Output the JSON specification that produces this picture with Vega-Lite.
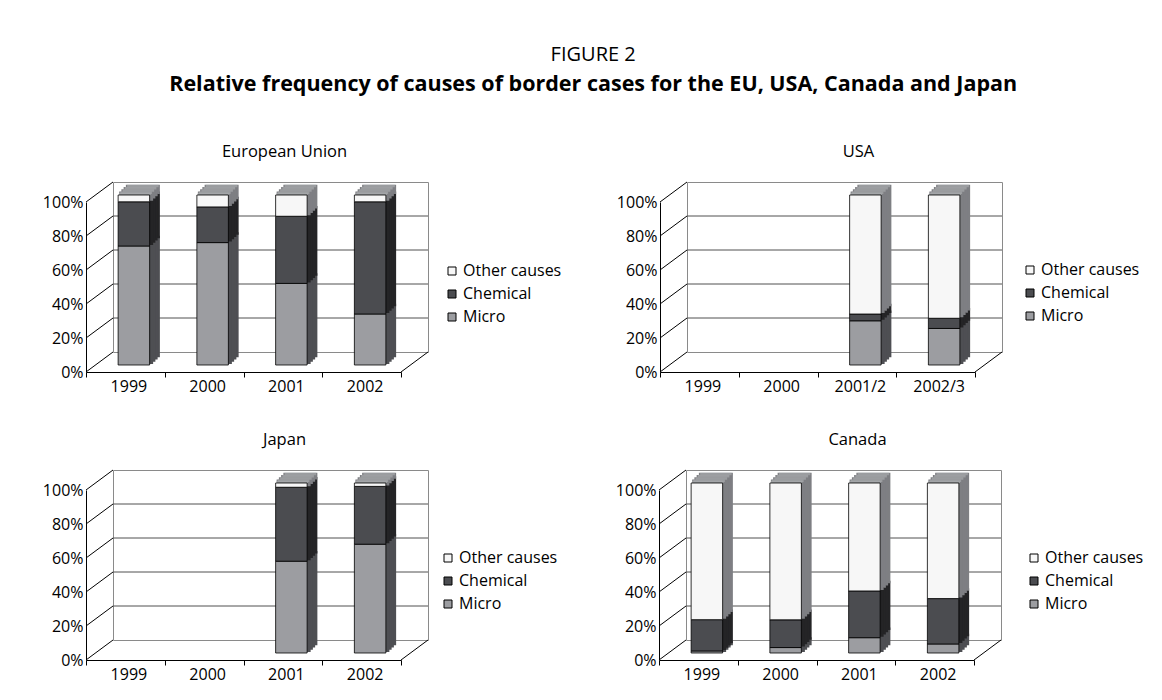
{
  "$schema": "https://vega.github.io/schema/vega-lite/v6.json",
  "background": "white",
  "padding": {"left": 41, "top": 45, "right": 5, "bottom": 5},
  "title": {
    "text": "FIGURE 2",
    "subtitle": "Relative frequency of causes of border cases for the EU, USA, Canada and Japan",
    "font": "Open Sans", "fontSize": 20, "fontWeight": "normal", "color": "black",
    "subtitleFont": "Open Sans", "subtitleFontSize": 21.5, "subtitleFontWeight": "bold", "subtitleColor": "black",
    "subtitlePadding": 9, "baseline": "top", "anchor": "middle", "frame": "bounds", "dx": 0, "offset": 48
  },
  "datasets": {
    "levels": [{"level": 0}, {"level": 20}, {"level": 40}, {"level": 60}, {"level": 80}, {"level": 100}],
    "causes": [
      {"region": "EU", "period": "1999", "cause": "Micro", "value": 70},
      {"region": "EU", "period": "1999", "cause": "Chemical", "value": 26},
      {"region": "EU", "period": "1999", "cause": "Other causes", "value": 4},
      {"region": "EU", "period": "2000", "cause": "Micro", "value": 72},
      {"region": "EU", "period": "2000", "cause": "Chemical", "value": 21},
      {"region": "EU", "period": "2000", "cause": "Other causes", "value": 7},
      {"region": "EU", "period": "2001", "cause": "Micro", "value": 48},
      {"region": "EU", "period": "2001", "cause": "Chemical", "value": 39.5},
      {"region": "EU", "period": "2001", "cause": "Other causes", "value": 12.5},
      {"region": "EU", "period": "2002", "cause": "Micro", "value": 30},
      {"region": "EU", "period": "2002", "cause": "Chemical", "value": 66},
      {"region": "EU", "period": "2002", "cause": "Other causes", "value": 4},
      {"region": "USA", "period": "2001/2", "cause": "Micro", "value": 26},
      {"region": "USA", "period": "2001/2", "cause": "Chemical", "value": 4},
      {"region": "USA", "period": "2001/2", "cause": "Other causes", "value": 70},
      {"region": "USA", "period": "2002/3", "cause": "Micro", "value": 21.5},
      {"region": "USA", "period": "2002/3", "cause": "Chemical", "value": 6},
      {"region": "USA", "period": "2002/3", "cause": "Other causes", "value": 72.5},
      {"region": "Japan", "period": "2001", "cause": "Micro", "value": 54},
      {"region": "Japan", "period": "2001", "cause": "Chemical", "value": 43.5},
      {"region": "Japan", "period": "2001", "cause": "Other causes", "value": 2.5},
      {"region": "Japan", "period": "2002", "cause": "Micro", "value": 64},
      {"region": "Japan", "period": "2002", "cause": "Chemical", "value": 34},
      {"region": "Japan", "period": "2002", "cause": "Other causes", "value": 2},
      {"region": "Canada", "period": "1999", "cause": "Micro", "value": 1.2},
      {"region": "Canada", "period": "1999", "cause": "Chemical", "value": 18.4},
      {"region": "Canada", "period": "1999", "cause": "Other causes", "value": 80.4},
      {"region": "Canada", "period": "2000", "cause": "Micro", "value": 3.2},
      {"region": "Canada", "period": "2000", "cause": "Chemical", "value": 16.3},
      {"region": "Canada", "period": "2000", "cause": "Other causes", "value": 80.5},
      {"region": "Canada", "period": "2001", "cause": "Micro", "value": 9},
      {"region": "Canada", "period": "2001", "cause": "Chemical", "value": 27.5},
      {"region": "Canada", "period": "2001", "cause": "Other causes", "value": 63.5},
      {"region": "Canada", "period": "2002", "cause": "Micro", "value": 5.3},
      {"region": "Canada", "period": "2002", "cause": "Chemical", "value": 26.7},
      {"region": "Canada", "period": "2002", "cause": "Other causes", "value": 68}
    ]
  },
  "spacing": 36,
  "resolve": {"scale": {"color": "independent", "fill": "independent", "stroke": "independent"}, "legend": {"color": "independent"}},
  "vconcat": [
    {
      "spacing": 52,
      "resolve": {"scale": {"color": "independent", "fill": "independent", "stroke": "independent"}, "legend": {"color": "independent"}},
      "hconcat": [
        {
          "width": 315, "height": 170,
          "title": {"text": "European Union"},
          "layer": [
            {"data": {"name": "levels"}, "transform": [{"filter": "datum.level > 0 && datum.level < 100"}],
             "mark": {"type": "rule", "color": "#505050", "strokeWidth": 1},
             "encoding": {"y": {"field": "level", "type": "quantitative", "title": null}}},
            {"data": {"name": "levels"},
             "mark": {"type": "rule", "color": "black", "strokeWidth": 1, "xOffset": -27, "yOffset": 20},
             "encoding": {"x": {"datum": "1999", "type": "nominal", "bandPosition": 0, "title": null}, "x2": {"datum": "1999", "bandPosition": 0}, "y": {"field": "level", "type": "quantitative", "title": null}, "y2": {"field": "level"}}},
            {"data": {"name": "levels"}, "transform": [{"filter": "datum.level == 0"}],
             "mark": {"type": "rule", "color": "black", "strokeWidth": 1, "xOffset": -27, "yOffset": 20},
             "encoding": {"x": {"datum": "2002", "type": "nominal", "bandPosition": 1, "title": null}, "x2": {"datum": "2002", "bandPosition": 1}, "y": {"field": "level", "type": "quantitative", "title": null}, "y2": {"field": "level"}}},
            {"data": {"name": "causes"}, "transform": [{"filter": "datum.region == 'EU'"}, {"stack": "value", "groupby": ["period"], "as": ["v0", "v1"]}],
             "mark": {"type": "bar", "width": {"band": 0.4}, "strokeWidth": 2.5, "xOffset": -9.5, "yOffset": 4, "y2Offset": 4},
             "encoding": {"x": {"field": "period", "type": "nominal", "title": null}, "y": {"field": "v1", "type": "quantitative", "title": null}, "y2": {"field": "v0"},
               "fill": {"field": "cause", "type": "nominal", "scale": {"range": ["#242426", "#4e4f53", "#7e7f83"]}, "legend": null},
               "stroke": {"field": "cause", "type": "nominal", "scale": {"range": ["#242426", "#4e4f53", "#7e7f83"]}, "legend": null}}},
            {"data": {"name": "causes"}, "transform": [{"filter": "datum.region == 'EU'"}, {"stack": "value", "groupby": ["period"], "as": ["v0", "v1"]}],
             "mark": {"type": "bar", "width": {"band": 0.4}, "strokeWidth": 2.5, "xOffset": -11.75, "yOffset": 6.25, "y2Offset": 6.25},
             "encoding": {"x": {"field": "period", "type": "nominal", "title": null}, "y": {"field": "v1", "type": "quantitative", "title": null}, "y2": {"field": "v0"},
               "fill": {"field": "cause", "type": "nominal", "scale": {"range": ["#242426", "#4e4f53", "#7e7f83"]}, "legend": null},
               "stroke": {"field": "cause", "type": "nominal", "scale": {"range": ["#242426", "#4e4f53", "#7e7f83"]}, "legend": null}}},
            {"data": {"name": "causes"}, "transform": [{"filter": "datum.region == 'EU'"}, {"stack": "value", "groupby": ["period"], "as": ["v0", "v1"]}],
             "mark": {"type": "bar", "width": {"band": 0.4}, "strokeWidth": 2.5, "xOffset": -14, "yOffset": 8.5, "y2Offset": 8.5},
             "encoding": {"x": {"field": "period", "type": "nominal", "title": null}, "y": {"field": "v1", "type": "quantitative", "title": null}, "y2": {"field": "v0"},
               "fill": {"field": "cause", "type": "nominal", "scale": {"range": ["#242426", "#4e4f53", "#7e7f83"]}, "legend": null},
               "stroke": {"field": "cause", "type": "nominal", "scale": {"range": ["#242426", "#4e4f53", "#7e7f83"]}, "legend": null}}},
            {"data": {"name": "causes"}, "transform": [{"filter": "datum.region == 'EU'"}, {"stack": "value", "groupby": ["period"], "as": ["v0", "v1"]}],
             "mark": {"type": "bar", "width": {"band": 0.4}, "strokeWidth": 2.5, "xOffset": -16.25, "yOffset": 10.75, "y2Offset": 10.75},
             "encoding": {"x": {"field": "period", "type": "nominal", "title": null}, "y": {"field": "v1", "type": "quantitative", "title": null}, "y2": {"field": "v0"},
               "fill": {"field": "cause", "type": "nominal", "scale": {"range": ["#242426", "#4e4f53", "#7e7f83"]}, "legend": null},
               "stroke": {"field": "cause", "type": "nominal", "scale": {"range": ["#242426", "#4e4f53", "#7e7f83"]}, "legend": null}}},
            {"data": {"name": "causes"}, "transform": [{"filter": "datum.region == 'EU' && datum.cause == 'Other causes'"}],
             "mark": {"type": "tick", "color": "#a8a9ac", "thickness": 2.5, "size": 31.5, "xOffset": -9.5, "yOffset": 4},
             "encoding": {"x": {"field": "period", "type": "nominal", "title": null}, "y": {"datum": 100, "type": "quantitative", "title": null}}},
            {"data": {"name": "causes"}, "transform": [{"filter": "datum.region == 'EU' && datum.cause == 'Other causes'"}],
             "mark": {"type": "tick", "color": "#a8a9ac", "thickness": 2.5, "size": 31.5, "xOffset": -11.75, "yOffset": 6.25},
             "encoding": {"x": {"field": "period", "type": "nominal", "title": null}, "y": {"datum": 100, "type": "quantitative", "title": null}}},
            {"data": {"name": "causes"}, "transform": [{"filter": "datum.region == 'EU' && datum.cause == 'Other causes'"}],
             "mark": {"type": "tick", "color": "#a8a9ac", "thickness": 2.5, "size": 31.5, "xOffset": -14, "yOffset": 8.5},
             "encoding": {"x": {"field": "period", "type": "nominal", "title": null}, "y": {"datum": 100, "type": "quantitative", "title": null}}},
            {"data": {"name": "causes"}, "transform": [{"filter": "datum.region == 'EU' && datum.cause == 'Other causes'"}],
             "mark": {"type": "tick", "color": "#a8a9ac", "thickness": 2.5, "size": 31.5, "xOffset": -16.25, "yOffset": 10.75},
             "encoding": {"x": {"field": "period", "type": "nominal", "title": null}, "y": {"datum": 100, "type": "quantitative", "title": null}}},
            {"data": {"name": "causes"}, "transform": [{"filter": "datum.region == 'EU' && datum.cause == 'Other causes'"}],
             "mark": {"type": "tick", "color": "#a8a9ac", "thickness": 2.5, "size": 31.5, "xOffset": -17.5, "yOffset": 12},
             "encoding": {"x": {"field": "period", "type": "nominal", "title": null}, "y": {"datum": 100, "type": "quantitative", "title": null}}},
            {"data": {"name": "causes"}, "transform": [{"filter": "datum.region == 'EU'"}, {"stack": "value", "groupby": ["period"], "as": ["v0", "v1"]}],
             "mark": {"type": "bar", "width": {"band": 0.4}, "stroke": "black", "strokeWidth": 0.8, "xOffset": -18.5, "yOffset": 13, "y2Offset": 13},
             "encoding": {
               "x": {"field": "period", "type": "nominal", "title": null, "scale": {"domain": ["1999", "2000", "2001", "2002"], "paddingInner": 0, "paddingOuter": 0},
                     "axis": {"orient": "bottom", "offset": 20, "position": -27, "tickBand": "extent", "tickSize": 5, "labelPadding": 9, "labelAngle": 0, "labelAlign": "center", "labelOffset": 3, "title": null}},
               "y": {"field": "v1", "type": "quantitative", "title": null, "scale": {"domain": [0, 100], "nice": false},
                     "axis": {"orient": "left", "offset": 27, "position": 20, "values": [0, 20, 40, 60, 80, 100], "tickCount": 6, "labelExpr": "datum.value + '%'", "ticks": false, "labelPadding": 3, "labelOverlap": false, "labelFlush": false, "title": null}},
               "y2": {"field": "v0"},
               "color": {"field": "cause", "type": "nominal", "scale": {"domain": ["Other causes", "Chemical", "Micro"], "range": ["#f7f7f7", "#4b4c50", "#9c9da1"]},
                         "legend": {"orient": "none", "legendX": 331, "legendY": 81, "title": null}}
             }}
          ]
        },
        {
          "width": 315, "height": 170,
          "title": {"text": "USA"},
          "layer": [
            {"data": {"name": "levels"}, "transform": [{"filter": "datum.level > 0 && datum.level < 100"}],
             "mark": {"type": "rule", "color": "#505050", "strokeWidth": 1},
             "encoding": {"y": {"field": "level", "type": "quantitative", "title": null}}},
            {"data": {"name": "levels"},
             "mark": {"type": "rule", "color": "black", "strokeWidth": 1, "xOffset": -27, "yOffset": 20},
             "encoding": {"x": {"datum": "1999", "type": "nominal", "bandPosition": 0, "title": null}, "x2": {"datum": "1999", "bandPosition": 0}, "y": {"field": "level", "type": "quantitative", "title": null}, "y2": {"field": "level"}}},
            {"data": {"name": "levels"}, "transform": [{"filter": "datum.level == 0"}],
             "mark": {"type": "rule", "color": "black", "strokeWidth": 1, "xOffset": -27, "yOffset": 20},
             "encoding": {"x": {"datum": "2002/3", "type": "nominal", "bandPosition": 1, "title": null}, "x2": {"datum": "2002/3", "bandPosition": 1}, "y": {"field": "level", "type": "quantitative", "title": null}, "y2": {"field": "level"}}},
            {"data": {"name": "causes"}, "transform": [{"filter": "datum.region == 'USA'"}, {"stack": "value", "groupby": ["period"], "as": ["v0", "v1"]}],
             "mark": {"type": "bar", "width": {"band": 0.4}, "strokeWidth": 2.5, "xOffset": -9.5, "yOffset": 4, "y2Offset": 4},
             "encoding": {"x": {"field": "period", "type": "nominal", "title": null}, "y": {"field": "v1", "type": "quantitative", "title": null}, "y2": {"field": "v0"},
               "fill": {"field": "cause", "type": "nominal", "scale": {"range": ["#242426", "#4e4f53", "#7e7f83"]}, "legend": null},
               "stroke": {"field": "cause", "type": "nominal", "scale": {"range": ["#242426", "#4e4f53", "#7e7f83"]}, "legend": null}}},
            {"data": {"name": "causes"}, "transform": [{"filter": "datum.region == 'USA'"}, {"stack": "value", "groupby": ["period"], "as": ["v0", "v1"]}],
             "mark": {"type": "bar", "width": {"band": 0.4}, "strokeWidth": 2.5, "xOffset": -11.75, "yOffset": 6.25, "y2Offset": 6.25},
             "encoding": {"x": {"field": "period", "type": "nominal", "title": null}, "y": {"field": "v1", "type": "quantitative", "title": null}, "y2": {"field": "v0"},
               "fill": {"field": "cause", "type": "nominal", "scale": {"range": ["#242426", "#4e4f53", "#7e7f83"]}, "legend": null},
               "stroke": {"field": "cause", "type": "nominal", "scale": {"range": ["#242426", "#4e4f53", "#7e7f83"]}, "legend": null}}},
            {"data": {"name": "causes"}, "transform": [{"filter": "datum.region == 'USA'"}, {"stack": "value", "groupby": ["period"], "as": ["v0", "v1"]}],
             "mark": {"type": "bar", "width": {"band": 0.4}, "strokeWidth": 2.5, "xOffset": -14, "yOffset": 8.5, "y2Offset": 8.5},
             "encoding": {"x": {"field": "period", "type": "nominal", "title": null}, "y": {"field": "v1", "type": "quantitative", "title": null}, "y2": {"field": "v0"},
               "fill": {"field": "cause", "type": "nominal", "scale": {"range": ["#242426", "#4e4f53", "#7e7f83"]}, "legend": null},
               "stroke": {"field": "cause", "type": "nominal", "scale": {"range": ["#242426", "#4e4f53", "#7e7f83"]}, "legend": null}}},
            {"data": {"name": "causes"}, "transform": [{"filter": "datum.region == 'USA'"}, {"stack": "value", "groupby": ["period"], "as": ["v0", "v1"]}],
             "mark": {"type": "bar", "width": {"band": 0.4}, "strokeWidth": 2.5, "xOffset": -16.25, "yOffset": 10.75, "y2Offset": 10.75},
             "encoding": {"x": {"field": "period", "type": "nominal", "title": null}, "y": {"field": "v1", "type": "quantitative", "title": null}, "y2": {"field": "v0"},
               "fill": {"field": "cause", "type": "nominal", "scale": {"range": ["#242426", "#4e4f53", "#7e7f83"]}, "legend": null},
               "stroke": {"field": "cause", "type": "nominal", "scale": {"range": ["#242426", "#4e4f53", "#7e7f83"]}, "legend": null}}},
            {"data": {"name": "causes"}, "transform": [{"filter": "datum.region == 'USA' && datum.cause == 'Other causes'"}],
             "mark": {"type": "tick", "color": "#a8a9ac", "thickness": 2.5, "size": 31.5, "xOffset": -9.5, "yOffset": 4},
             "encoding": {"x": {"field": "period", "type": "nominal", "title": null}, "y": {"datum": 100, "type": "quantitative", "title": null}}},
            {"data": {"name": "causes"}, "transform": [{"filter": "datum.region == 'USA' && datum.cause == 'Other causes'"}],
             "mark": {"type": "tick", "color": "#a8a9ac", "thickness": 2.5, "size": 31.5, "xOffset": -11.75, "yOffset": 6.25},
             "encoding": {"x": {"field": "period", "type": "nominal", "title": null}, "y": {"datum": 100, "type": "quantitative", "title": null}}},
            {"data": {"name": "causes"}, "transform": [{"filter": "datum.region == 'USA' && datum.cause == 'Other causes'"}],
             "mark": {"type": "tick", "color": "#a8a9ac", "thickness": 2.5, "size": 31.5, "xOffset": -14, "yOffset": 8.5},
             "encoding": {"x": {"field": "period", "type": "nominal", "title": null}, "y": {"datum": 100, "type": "quantitative", "title": null}}},
            {"data": {"name": "causes"}, "transform": [{"filter": "datum.region == 'USA' && datum.cause == 'Other causes'"}],
             "mark": {"type": "tick", "color": "#a8a9ac", "thickness": 2.5, "size": 31.5, "xOffset": -16.25, "yOffset": 10.75},
             "encoding": {"x": {"field": "period", "type": "nominal", "title": null}, "y": {"datum": 100, "type": "quantitative", "title": null}}},
            {"data": {"name": "causes"}, "transform": [{"filter": "datum.region == 'USA' && datum.cause == 'Other causes'"}],
             "mark": {"type": "tick", "color": "#a8a9ac", "thickness": 2.5, "size": 31.5, "xOffset": -17.5, "yOffset": 12},
             "encoding": {"x": {"field": "period", "type": "nominal", "title": null}, "y": {"datum": 100, "type": "quantitative", "title": null}}},
            {"data": {"name": "causes"}, "transform": [{"filter": "datum.region == 'USA'"}, {"stack": "value", "groupby": ["period"], "as": ["v0", "v1"]}],
             "mark": {"type": "bar", "width": {"band": 0.4}, "stroke": "black", "strokeWidth": 0.8, "xOffset": -18.5, "yOffset": 13, "y2Offset": 13},
             "encoding": {
               "x": {"field": "period", "type": "nominal", "title": null, "scale": {"domain": ["1999", "2000", "2001/2", "2002/3"], "paddingInner": 0, "paddingOuter": 0},
                     "axis": {"orient": "bottom", "offset": 20, "position": -27, "tickBand": "extent", "tickSize": 5, "labelPadding": 9, "labelAngle": 0, "labelAlign": "center", "labelOffset": 3, "title": null}},
               "y": {"field": "v1", "type": "quantitative", "title": null, "scale": {"domain": [0, 100], "nice": false},
                     "axis": {"orient": "left", "offset": 27, "position": 20, "values": [0, 20, 40, 60, 80, 100], "tickCount": 6, "labelExpr": "datum.value + '%'", "ticks": false, "labelPadding": 3, "labelOverlap": false, "labelFlush": false, "title": null}},
               "y2": {"field": "v0"},
               "color": {"field": "cause", "type": "nominal", "scale": {"domain": ["Other causes", "Chemical", "Micro"], "range": ["#f7f7f7", "#4b4c50", "#9c9da1"]},
                         "legend": {"orient": "none", "legendX": 335, "legendY": 80, "title": null}}
             }}
          ]
        }
      ]
    },
    {
      "spacing": 55,
      "resolve": {"scale": {"color": "independent", "fill": "independent", "stroke": "independent"}, "legend": {"color": "independent"}},
      "hconcat": [
        {
          "width": 315, "height": 170,
          "title": {"text": "Japan"},
          "layer": [
            {"data": {"name": "levels"}, "transform": [{"filter": "datum.level > 0 && datum.level < 100"}],
             "mark": {"type": "rule", "color": "#505050", "strokeWidth": 1},
             "encoding": {"y": {"field": "level", "type": "quantitative", "title": null}}},
            {"data": {"name": "levels"},
             "mark": {"type": "rule", "color": "black", "strokeWidth": 1, "xOffset": -27, "yOffset": 20},
             "encoding": {"x": {"datum": "1999", "type": "nominal", "bandPosition": 0, "title": null}, "x2": {"datum": "1999", "bandPosition": 0}, "y": {"field": "level", "type": "quantitative", "title": null}, "y2": {"field": "level"}}},
            {"data": {"name": "levels"}, "transform": [{"filter": "datum.level == 0"}],
             "mark": {"type": "rule", "color": "black", "strokeWidth": 1, "xOffset": -27, "yOffset": 20},
             "encoding": {"x": {"datum": "2002", "type": "nominal", "bandPosition": 1, "title": null}, "x2": {"datum": "2002", "bandPosition": 1}, "y": {"field": "level", "type": "quantitative", "title": null}, "y2": {"field": "level"}}},
            {"data": {"name": "causes"}, "transform": [{"filter": "datum.region == 'Japan'"}, {"stack": "value", "groupby": ["period"], "as": ["v0", "v1"]}],
             "mark": {"type": "bar", "width": {"band": 0.4}, "strokeWidth": 2.5, "xOffset": -9.5, "yOffset": 4, "y2Offset": 4},
             "encoding": {"x": {"field": "period", "type": "nominal", "title": null}, "y": {"field": "v1", "type": "quantitative", "title": null}, "y2": {"field": "v0"},
               "fill": {"field": "cause", "type": "nominal", "scale": {"range": ["#242426", "#4e4f53", "#7e7f83"]}, "legend": null},
               "stroke": {"field": "cause", "type": "nominal", "scale": {"range": ["#242426", "#4e4f53", "#7e7f83"]}, "legend": null}}},
            {"data": {"name": "causes"}, "transform": [{"filter": "datum.region == 'Japan'"}, {"stack": "value", "groupby": ["period"], "as": ["v0", "v1"]}],
             "mark": {"type": "bar", "width": {"band": 0.4}, "strokeWidth": 2.5, "xOffset": -11.75, "yOffset": 6.25, "y2Offset": 6.25},
             "encoding": {"x": {"field": "period", "type": "nominal", "title": null}, "y": {"field": "v1", "type": "quantitative", "title": null}, "y2": {"field": "v0"},
               "fill": {"field": "cause", "type": "nominal", "scale": {"range": ["#242426", "#4e4f53", "#7e7f83"]}, "legend": null},
               "stroke": {"field": "cause", "type": "nominal", "scale": {"range": ["#242426", "#4e4f53", "#7e7f83"]}, "legend": null}}},
            {"data": {"name": "causes"}, "transform": [{"filter": "datum.region == 'Japan'"}, {"stack": "value", "groupby": ["period"], "as": ["v0", "v1"]}],
             "mark": {"type": "bar", "width": {"band": 0.4}, "strokeWidth": 2.5, "xOffset": -14, "yOffset": 8.5, "y2Offset": 8.5},
             "encoding": {"x": {"field": "period", "type": "nominal", "title": null}, "y": {"field": "v1", "type": "quantitative", "title": null}, "y2": {"field": "v0"},
               "fill": {"field": "cause", "type": "nominal", "scale": {"range": ["#242426", "#4e4f53", "#7e7f83"]}, "legend": null},
               "stroke": {"field": "cause", "type": "nominal", "scale": {"range": ["#242426", "#4e4f53", "#7e7f83"]}, "legend": null}}},
            {"data": {"name": "causes"}, "transform": [{"filter": "datum.region == 'Japan'"}, {"stack": "value", "groupby": ["period"], "as": ["v0", "v1"]}],
             "mark": {"type": "bar", "width": {"band": 0.4}, "strokeWidth": 2.5, "xOffset": -16.25, "yOffset": 10.75, "y2Offset": 10.75},
             "encoding": {"x": {"field": "period", "type": "nominal", "title": null}, "y": {"field": "v1", "type": "quantitative", "title": null}, "y2": {"field": "v0"},
               "fill": {"field": "cause", "type": "nominal", "scale": {"range": ["#242426", "#4e4f53", "#7e7f83"]}, "legend": null},
               "stroke": {"field": "cause", "type": "nominal", "scale": {"range": ["#242426", "#4e4f53", "#7e7f83"]}, "legend": null}}},
            {"data": {"name": "causes"}, "transform": [{"filter": "datum.region == 'Japan' && datum.cause == 'Other causes'"}],
             "mark": {"type": "tick", "color": "#a8a9ac", "thickness": 2.5, "size": 31.5, "xOffset": -9.5, "yOffset": 4},
             "encoding": {"x": {"field": "period", "type": "nominal", "title": null}, "y": {"datum": 100, "type": "quantitative", "title": null}}},
            {"data": {"name": "causes"}, "transform": [{"filter": "datum.region == 'Japan' && datum.cause == 'Other causes'"}],
             "mark": {"type": "tick", "color": "#a8a9ac", "thickness": 2.5, "size": 31.5, "xOffset": -11.75, "yOffset": 6.25},
             "encoding": {"x": {"field": "period", "type": "nominal", "title": null}, "y": {"datum": 100, "type": "quantitative", "title": null}}},
            {"data": {"name": "causes"}, "transform": [{"filter": "datum.region == 'Japan' && datum.cause == 'Other causes'"}],
             "mark": {"type": "tick", "color": "#a8a9ac", "thickness": 2.5, "size": 31.5, "xOffset": -14, "yOffset": 8.5},
             "encoding": {"x": {"field": "period", "type": "nominal", "title": null}, "y": {"datum": 100, "type": "quantitative", "title": null}}},
            {"data": {"name": "causes"}, "transform": [{"filter": "datum.region == 'Japan' && datum.cause == 'Other causes'"}],
             "mark": {"type": "tick", "color": "#a8a9ac", "thickness": 2.5, "size": 31.5, "xOffset": -16.25, "yOffset": 10.75},
             "encoding": {"x": {"field": "period", "type": "nominal", "title": null}, "y": {"datum": 100, "type": "quantitative", "title": null}}},
            {"data": {"name": "causes"}, "transform": [{"filter": "datum.region == 'Japan' && datum.cause == 'Other causes'"}],
             "mark": {"type": "tick", "color": "#a8a9ac", "thickness": 2.5, "size": 31.5, "xOffset": -17.5, "yOffset": 12},
             "encoding": {"x": {"field": "period", "type": "nominal", "title": null}, "y": {"datum": 100, "type": "quantitative", "title": null}}},
            {"data": {"name": "causes"}, "transform": [{"filter": "datum.region == 'Japan'"}, {"stack": "value", "groupby": ["period"], "as": ["v0", "v1"]}],
             "mark": {"type": "bar", "width": {"band": 0.4}, "stroke": "black", "strokeWidth": 0.8, "xOffset": -18.5, "yOffset": 13, "y2Offset": 13},
             "encoding": {
               "x": {"field": "period", "type": "nominal", "title": null, "scale": {"domain": ["1999", "2000", "2001", "2002"], "paddingInner": 0, "paddingOuter": 0},
                     "axis": {"orient": "bottom", "offset": 20, "position": -27, "tickBand": "extent", "tickSize": 5, "labelPadding": 9, "labelAngle": 0, "labelAlign": "center", "labelOffset": 3, "title": null}},
               "y": {"field": "v1", "type": "quantitative", "title": null, "scale": {"domain": [0, 100], "nice": false},
                     "axis": {"orient": "left", "offset": 27, "position": 20, "values": [0, 20, 40, 60, 80, 100], "tickCount": 6, "labelExpr": "datum.value + '%'", "ticks": false, "labelPadding": 3, "labelOverlap": false, "labelFlush": false, "title": null}},
               "y2": {"field": "v0"},
               "color": {"field": "cause", "type": "nominal", "scale": {"domain": ["Other causes", "Chemical", "Micro"], "range": ["#f7f7f7", "#4b4c50", "#9c9da1"]},
                         "legend": {"orient": "none", "legendX": 327, "legendY": 80, "title": null}}
             }}
          ]
        },
        {
          "width": 315, "height": 170,
          "title": {"text": "Canada"},
          "layer": [
            {"data": {"name": "levels"}, "transform": [{"filter": "datum.level > 0 && datum.level < 100"}],
             "mark": {"type": "rule", "color": "#505050", "strokeWidth": 1},
             "encoding": {"y": {"field": "level", "type": "quantitative", "title": null}}},
            {"data": {"name": "levels"},
             "mark": {"type": "rule", "color": "black", "strokeWidth": 1, "xOffset": -27, "yOffset": 20},
             "encoding": {"x": {"datum": "1999", "type": "nominal", "bandPosition": 0, "title": null}, "x2": {"datum": "1999", "bandPosition": 0}, "y": {"field": "level", "type": "quantitative", "title": null}, "y2": {"field": "level"}}},
            {"data": {"name": "levels"}, "transform": [{"filter": "datum.level == 0"}],
             "mark": {"type": "rule", "color": "black", "strokeWidth": 1, "xOffset": -27, "yOffset": 20},
             "encoding": {"x": {"datum": "2002", "type": "nominal", "bandPosition": 1, "title": null}, "x2": {"datum": "2002", "bandPosition": 1}, "y": {"field": "level", "type": "quantitative", "title": null}, "y2": {"field": "level"}}},
            {"data": {"name": "causes"}, "transform": [{"filter": "datum.region == 'Canada'"}, {"stack": "value", "groupby": ["period"], "as": ["v0", "v1"]}],
             "mark": {"type": "bar", "width": {"band": 0.4}, "strokeWidth": 2.5, "xOffset": -9.5, "yOffset": 4, "y2Offset": 4},
             "encoding": {"x": {"field": "period", "type": "nominal", "title": null}, "y": {"field": "v1", "type": "quantitative", "title": null}, "y2": {"field": "v0"},
               "fill": {"field": "cause", "type": "nominal", "scale": {"range": ["#242426", "#4e4f53", "#7e7f83"]}, "legend": null},
               "stroke": {"field": "cause", "type": "nominal", "scale": {"range": ["#242426", "#4e4f53", "#7e7f83"]}, "legend": null}}},
            {"data": {"name": "causes"}, "transform": [{"filter": "datum.region == 'Canada'"}, {"stack": "value", "groupby": ["period"], "as": ["v0", "v1"]}],
             "mark": {"type": "bar", "width": {"band": 0.4}, "strokeWidth": 2.5, "xOffset": -11.75, "yOffset": 6.25, "y2Offset": 6.25},
             "encoding": {"x": {"field": "period", "type": "nominal", "title": null}, "y": {"field": "v1", "type": "quantitative", "title": null}, "y2": {"field": "v0"},
               "fill": {"field": "cause", "type": "nominal", "scale": {"range": ["#242426", "#4e4f53", "#7e7f83"]}, "legend": null},
               "stroke": {"field": "cause", "type": "nominal", "scale": {"range": ["#242426", "#4e4f53", "#7e7f83"]}, "legend": null}}},
            {"data": {"name": "causes"}, "transform": [{"filter": "datum.region == 'Canada'"}, {"stack": "value", "groupby": ["period"], "as": ["v0", "v1"]}],
             "mark": {"type": "bar", "width": {"band": 0.4}, "strokeWidth": 2.5, "xOffset": -14, "yOffset": 8.5, "y2Offset": 8.5},
             "encoding": {"x": {"field": "period", "type": "nominal", "title": null}, "y": {"field": "v1", "type": "quantitative", "title": null}, "y2": {"field": "v0"},
               "fill": {"field": "cause", "type": "nominal", "scale": {"range": ["#242426", "#4e4f53", "#7e7f83"]}, "legend": null},
               "stroke": {"field": "cause", "type": "nominal", "scale": {"range": ["#242426", "#4e4f53", "#7e7f83"]}, "legend": null}}},
            {"data": {"name": "causes"}, "transform": [{"filter": "datum.region == 'Canada'"}, {"stack": "value", "groupby": ["period"], "as": ["v0", "v1"]}],
             "mark": {"type": "bar", "width": {"band": 0.4}, "strokeWidth": 2.5, "xOffset": -16.25, "yOffset": 10.75, "y2Offset": 10.75},
             "encoding": {"x": {"field": "period", "type": "nominal", "title": null}, "y": {"field": "v1", "type": "quantitative", "title": null}, "y2": {"field": "v0"},
               "fill": {"field": "cause", "type": "nominal", "scale": {"range": ["#242426", "#4e4f53", "#7e7f83"]}, "legend": null},
               "stroke": {"field": "cause", "type": "nominal", "scale": {"range": ["#242426", "#4e4f53", "#7e7f83"]}, "legend": null}}},
            {"data": {"name": "causes"}, "transform": [{"filter": "datum.region == 'Canada' && datum.cause == 'Other causes'"}],
             "mark": {"type": "tick", "color": "#a8a9ac", "thickness": 2.5, "size": 31.5, "xOffset": -9.5, "yOffset": 4},
             "encoding": {"x": {"field": "period", "type": "nominal", "title": null}, "y": {"datum": 100, "type": "quantitative", "title": null}}},
            {"data": {"name": "causes"}, "transform": [{"filter": "datum.region == 'Canada' && datum.cause == 'Other causes'"}],
             "mark": {"type": "tick", "color": "#a8a9ac", "thickness": 2.5, "size": 31.5, "xOffset": -11.75, "yOffset": 6.25},
             "encoding": {"x": {"field": "period", "type": "nominal", "title": null}, "y": {"datum": 100, "type": "quantitative", "title": null}}},
            {"data": {"name": "causes"}, "transform": [{"filter": "datum.region == 'Canada' && datum.cause == 'Other causes'"}],
             "mark": {"type": "tick", "color": "#a8a9ac", "thickness": 2.5, "size": 31.5, "xOffset": -14, "yOffset": 8.5},
             "encoding": {"x": {"field": "period", "type": "nominal", "title": null}, "y": {"datum": 100, "type": "quantitative", "title": null}}},
            {"data": {"name": "causes"}, "transform": [{"filter": "datum.region == 'Canada' && datum.cause == 'Other causes'"}],
             "mark": {"type": "tick", "color": "#a8a9ac", "thickness": 2.5, "size": 31.5, "xOffset": -16.25, "yOffset": 10.75},
             "encoding": {"x": {"field": "period", "type": "nominal", "title": null}, "y": {"datum": 100, "type": "quantitative", "title": null}}},
            {"data": {"name": "causes"}, "transform": [{"filter": "datum.region == 'Canada' && datum.cause == 'Other causes'"}],
             "mark": {"type": "tick", "color": "#a8a9ac", "thickness": 2.5, "size": 31.5, "xOffset": -17.5, "yOffset": 12},
             "encoding": {"x": {"field": "period", "type": "nominal", "title": null}, "y": {"datum": 100, "type": "quantitative", "title": null}}},
            {"data": {"name": "causes"}, "transform": [{"filter": "datum.region == 'Canada'"}, {"stack": "value", "groupby": ["period"], "as": ["v0", "v1"]}],
             "mark": {"type": "bar", "width": {"band": 0.4}, "stroke": "black", "strokeWidth": 0.8, "xOffset": -18.5, "yOffset": 13, "y2Offset": 13},
             "encoding": {
               "x": {"field": "period", "type": "nominal", "title": null, "scale": {"domain": ["1999", "2000", "2001", "2002"], "paddingInner": 0, "paddingOuter": 0},
                     "axis": {"orient": "bottom", "offset": 20, "position": -27, "tickBand": "extent", "tickSize": 5, "labelPadding": 9, "labelAngle": 0, "labelAlign": "center", "labelOffset": 3, "title": null}},
               "y": {"field": "v1", "type": "quantitative", "title": null, "scale": {"domain": [0, 100], "nice": false},
                     "axis": {"orient": "left", "offset": 27, "position": 20, "values": [0, 20, 40, 60, 80, 100], "tickCount": 6, "labelExpr": "datum.value + '%'", "ticks": false, "labelPadding": 3, "labelOverlap": false, "labelFlush": false, "title": null}},
               "y2": {"field": "v0"},
               "color": {"field": "cause", "type": "nominal", "scale": {"domain": ["Other causes", "Chemical", "Micro"], "range": ["#f7f7f7", "#4b4c50", "#9c9da1"]},
                         "legend": {"orient": "none", "legendX": 340, "legendY": 80, "title": null}}
             }}
          ]
        }
      ]
    }
  ],
  "config": {
    "font": "Open Sans",
    "view": {"stroke": "#8a8a8a", "strokeWidth": 1},
    "axis": {"labelFontSize": 16, "labelColor": "black", "labelFont": "Open Sans", "domainColor": "black", "tickColor": "black", "grid": false, "labelOverlap": false},
    "legend": {"labelFontSize": 16, "labelColor": "black", "labelFont": "Open Sans", "symbolType": "square", "symbolSize": 64, "symbolStrokeColor": "black", "symbolStrokeWidth": 1, "rowPadding": 7, "labelOffset": 3, "padding": 0},
    "title": {"font": "Open Sans", "fontSize": 16.5, "fontWeight": "normal", "color": "black", "anchor": "middle", "frame": "group", "dx": 14, "offset": 21, "baseline": "bottom"}
  }
}
